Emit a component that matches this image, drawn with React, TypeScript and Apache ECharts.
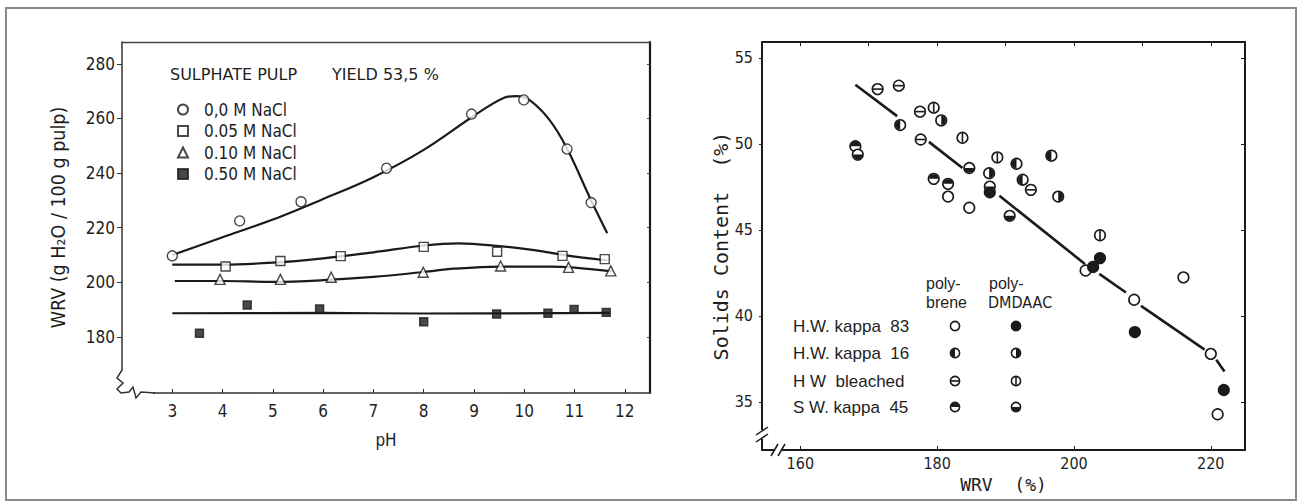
import React, { useEffect, useRef } from "react";
import * as echarts from "echarts";

// ---------- Left chart: WRV vs pH ----------
const phTicks = [3, 4, 5, 6, 7, 8, 9, 10, 11, 12];
const wrvLeftTicks = [180, 200, 220, 240, 260, 280];

const pts00 = [[3, 209.7], [4.34, 222.5], [5.56, 229.5], [7.26, 241.8], [8.95, 261.6], [9.99, 266.8], [10.85, 248.8], [11.33, 229.2]];
const pts005 = [[4.06, 205.8], [5.15, 207.8], [6.35, 209.6], [8.0, 213], [9.46, 211.2], [10.76, 209.7], [11.6, 208.5]];
const pts010 = [[3.95, 201.1], [5.15, 201.1], [6.16, 201.9], [7.99, 203.7], [9.53, 206], [10.88, 205.5], [11.72, 204.2]];
const pts050 = [[3.54, 181.4], [4.49, 191.7], [5.93, 190.3], [8.0, 185.6], [9.45, 188.4], [10.47, 188.7], [10.99, 190.1], [11.63, 189]];

const curve00 = [[3, 210], [4, 216.5], [5, 223], [6, 230.5], [7, 238.5], [8, 248.5], [9, 261], [9.6, 267.6], [9.85, 268.2], [10.1, 266.8], [10.5, 259.5], [10.85, 249], [11.33, 230], [11.65, 218]];
const curve005 = [[3, 206.5], [4, 206.5], [5, 207.2], [6, 208.8], [7, 211], [8, 213.5], [8.7, 214.3], [9.5, 213.3], [10.2, 211.8], [10.8, 210], [11.65, 208]];
const curve010 = [[3.05, 200.5], [4, 200.5], [5, 200.2], [6, 200.8], [7, 202], [8, 203.8], [8.6, 205], [9.5, 205.8], [10.5, 205.8], [11, 205.4], [11.75, 204]];
const curve050 = [[3, 188.7], [6, 188.8], [8, 188.6], [11.7, 188.8]];

const legendNames = ["0,0 M NaCl", "0.05 M NaCl", "0.10 M NaCl", "0.50 M NaCl"];

// ---------- Right chart: Solids content vs WRV ----------
const wrvTicks = [160, 180, 200, 220];
const wrvTopTicks = [160, 170, 180, 190, 200, 210, 220];
const solidsTicks = [35, 40, 45, 50, 55];

const hw83Poly = [[181.6, 46.94], [184.7, 46.29], [201.7, 42.64], [208.8, 40.94], [220.0, 37.79], [221.0, 34.28], [216.0, 42.24]];
const hw83Dmd = [[187.7, 47.19], [203.8, 43.36], [202.8, 42.85], [208.9, 39.06], [221.9, 35.69]];
const hw16Poly = [[174.6, 51.1], [191.6, 48.85], [192.5, 47.92], [196.7, 49.32]];
const hw16Dmd = [[180.6, 51.37], [187.6, 48.3], [197.7, 46.94]];
const hwBlPoly = [[171.3, 53.19], [174.4, 53.39], [177.5, 51.88], [177.6, 50.26], [193.7, 47.33]];
const hwBlDmd = [[179.5, 52.11], [183.7, 50.36], [188.8, 49.22], [203.8, 44.69]];
const sw45Poly = [[168.05, 49.87], [179.5, 47.97], [181.6, 47.68]];
const sw45Dmd = [[168.4, 49.38], [184.7, 48.6], [187.7, 47.52], [190.6, 45.82]];

const fitSegments = [
  [[168.05, 53.44], [174.15, 51.62]],
  [[178.8, 50.12], [183.7, 48.6]],
  [[189.1, 46.99], [201.6, 43.02]],
  [[203.7, 42.44], [207.6, 41.36]],
  [[209.8, 40.58], [219.1, 38.04]],
  [[220.8, 37.45], [222.0, 36.77]],
];

const pulpRows = ["H.W. kappa  83", "H.W. kappa  16", "H W  bleached", "S W. kappa  45"];

const COND = '"DejaVu Sans Condensed", "Liberation Sans Narrow", "Roboto Condensed", "DejaVu Sans", sans-serif';
const DJV = '"DejaVu Sans", "Liberation Sans", sans-serif';
const MONO = '"DejaVu Sans Mono", "Liberation Mono", monospace';
const SANS = '"Liberation Sans", Arial, sans-serif';
const INK = "#1a1a1a";

// kind: 0 open, 1 filled, 2 left half, 3 right half, 4 horizontal bar, 5 vertical bar, 6 top half, 7 bottom half
function marker(kind: number, cx: number, cy: number, r: number) {
  const ch: any[] = [
    { type: "circle", shape: { cx, cy, r }, style: { fill: kind === 1 ? INK : "#fff", stroke: INK, lineWidth: 1.6 } },
  ];
  const ri = r - 0.6;
  const P = Math.PI;
  const sector = (s: number, e: number) => ({
    type: "sector",
    shape: { cx, cy, r0: 0, r: ri, startAngle: s, endAngle: e, clockwise: true },
    style: { fill: INK },
  });
  if (kind === 2) ch.push(sector(P / 2, P * 1.5));
  if (kind === 3) ch.push(sector(-P / 2, P / 2));
  if (kind === 6) ch.push(sector(P, 2 * P));
  if (kind === 7) ch.push(sector(0, P));
  if (kind === 4) ch.push({ type: "rect", shape: { x: cx - ri, y: cy - 0.8, width: 2 * ri, height: 1.6 }, style: { fill: INK } });
  if (kind === 5) ch.push({ type: "rect", shape: { x: cx - 0.8, y: cy - ri, width: 1.6, height: 2 * ri }, style: { fill: INK } });
  return ch;
}

const rightSets: [string, number[][], number][] = [
  ["H.W. kappa 83 polybrene", hw83Poly, 0],
  ["H.W. kappa 83 polyDMDAAC", hw83Dmd, 1],
  ["H.W. kappa 16 polybrene", hw16Poly, 2],
  ["H.W. kappa 16 polyDMDAAC", hw16Dmd, 3],
  ["H.W. bleached polybrene", hwBlPoly, 4],
  ["H.W. bleached polyDMDAAC", hwBlDmd, 5],
  ["S.W. kappa 45 polybrene", sw45Poly, 6],
  ["S.W. kappa 45 polyDMDAAC", sw45Dmd, 7],
];

export default function App() {
  const ref = useRef<HTMLDivElement>(null);
  useEffect(() => {
    document.body.style.margin = "0";
    const chart = echarts.init(ref.current!, undefined, { renderer: "svg" });
    const axisText = { fontFamily: COND, fontSize: 17, color: "#1e1e1e" };

    const leftLine = (data: number[][], name: string) => ({
      type: "line", name, xAxisIndex: 0, yAxisIndex: 0, data, smooth: 0.35, showSymbol: false, symbol: "none",
      lineStyle: { color: INK, width: 2.2 }, z: 2, silent: true,
    });
    const leftScatter = (data: number[][], name: string, symbol: string, size: number, filled: boolean) => ({
      type: "scatter", name, xAxisIndex: 0, yAxisIndex: 0, data, symbol, symbolSize: size, z: 3,
      itemStyle: { color: filled ? INK : "#fff", borderColor: INK, borderWidth: 1.4 },
    });

    const rowY = [326, 353, 381, 407];
    const colX = [955, 1016];
    const textStyle = (text: string, fontFamily: string, fontSize: number) => ({
      text, fontFamily, fontSize, fill: "#1e1e1e", verticalAlign: "middle",
    });
    const graphic: any[] = [
      { type: "rect", shape: { x: 6, y: 8, width: 1290, height: 492 }, style: { fill: "none", stroke: "#8a8a8a", lineWidth: 2 }, z: 100 },
      // left axis break (zigzag)
      { type: "rect", shape: { x: 113, y: 366, width: 14, height: 30 }, style: { fill: "#fff" }, z: 100 },
      { type: "rect", shape: { x: 113, y: 386, width: 40, height: 12 }, style: { fill: "#fff" }, z: 100 },
      {
        type: "polyline",
        shape: { points: [[122, 366], [122, 370], [117, 378], [123, 383], [117, 389], [121, 393], [129, 392], [133, 387], [136, 398], [141, 392], [155, 393]] },
        style: { stroke: "#333", lineWidth: 1.5, fill: "none" }, z: 101,
      },
      { type: "text", x: 170, y: 74, style: textStyle("SULPHATE PULP", DJV, 16), z: 101 },
      { type: "text", x: 332, y: 74, style: textStyle("YIELD 53,5 %", DJV, 16), z: 101 },
      // right axis breaks
      { type: "rect", shape: { x: 758, y: 430, width: 8, height: 9 }, style: { fill: "#fff" }, z: 100 },
      { type: "line", shape: { x1: 756, y1: 435, x2: 768, y2: 427 }, style: { stroke: INK, lineWidth: 1.5 }, z: 101 },
      { type: "line", shape: { x1: 756, y1: 442, x2: 768, y2: 434 }, style: { stroke: INK, lineWidth: 1.5 }, z: 101 },
      { type: "rect", shape: { x: 775, y: 446, width: 6, height: 8 }, style: { fill: "#fff" }, z: 100 },
      { type: "line", shape: { x1: 771, y1: 456, x2: 778, y2: 444 }, style: { stroke: INK, lineWidth: 1.5 }, z: 101 },
      { type: "line", shape: { x1: 778, y1: 456, x2: 785, y2: 444 }, style: { stroke: INK, lineWidth: 1.5 }, z: 101 },
      // right legend headers
      { type: "text", x: 926, y: 283, style: textStyle("poly-", SANS, 16), z: 101 },
      { type: "text", x: 926, y: 302, style: textStyle("brene", SANS, 16), z: 101 },
      { type: "text", x: 989, y: 283, style: textStyle("poly-", SANS, 16), z: 101 },
      { type: "text", x: 988, y: 302, style: textStyle("DMDAAC", COND, 16), z: 101 },
    ];
    pulpRows.forEach((t, i) => {
      graphic.push({ type: "text", x: 793, y: rowY[i], style: textStyle(t, SANS, 17), z: 101 });
      graphic.push({ type: "group", children: marker([0, 2, 4, 6][i], colX[0], rowY[i], 4.6), z: 101 });
      graphic.push({ type: "group", children: marker([1, 3, 5, 7][i], colX[1], rowY[i], 4.6), z: 101 });
    });

    const option: any = {
      animation: false,
      backgroundColor: "#fff",
      grid: [
        { left: 122, top: 42, width: 528, height: 351, show: false },
        { left: 762, top: 42, width: 483, height: 408, show: false },
      ],
      legend: {
        data: legendNames, orient: "vertical", left: 172, top: 96, itemWidth: 10, itemHeight: 10, itemGap: 4.5,
        textStyle: { fontFamily: COND, fontSize: 17, color: "#1e1e1e", lineHeight: 16, padding: [0, 0, 0, 11] },
        selectedMode: false,
      },
      xAxis: [
        {
          gridIndex: 0, type: "value", min: 2, max: 12.5, position: "bottom",
          axisLine: { show: true, lineStyle: { color: "#333", width: 1.5 } },
          axisTick: { show: true, inside: true, length: 4, customValues: phTicks, lineStyle: { color: "#333" } },
          axisLabel: { customValues: phTicks, margin: 9, ...axisText },
          splitLine: { show: false },
          name: "pH", nameLocation: "middle", nameGap: 38, nameTextStyle: { ...axisText },
        },
        {
          gridIndex: 0, type: "value", min: 2, max: 12.5, position: "top",
          axisLine: { show: true, lineStyle: { color: "#444", width: 1.3 } },
          axisTick: { show: false }, axisLabel: { show: false }, splitLine: { show: false },
        },
        {
          gridIndex: 1, type: "value", min: 154.4, max: 225, position: "bottom",
          axisLine: { show: true, lineStyle: { color: INK, width: 2 } },
          axisTick: { show: true, inside: true, length: 4, customValues: wrvTicks, lineStyle: { color: INK } },
          axisLabel: { customValues: wrvTicks, margin: 5, fontFamily: COND, fontSize: 16, color: "#1e1e1e" },
          splitLine: { show: false },
          name: "WRV  (%)", nameLocation: "middle", nameGap: 20, nameTextStyle: { fontFamily: MONO, fontSize: 18, color: "#1e1e1e" },
        },
        {
          gridIndex: 1, type: "value", min: 154.4, max: 225, position: "top",
          axisLine: { show: true, lineStyle: { color: INK, width: 2 } },
          axisTick: { show: true, inside: true, length: 4, customValues: wrvTopTicks, lineStyle: { color: INK } },
          axisLabel: { show: false }, splitLine: { show: false },
        },
      ],
      yAxis: [
        {
          gridIndex: 0, type: "value", min: 159.5, max: 288, position: "left",
          axisLine: { show: true, lineStyle: { color: "#333", width: 1.5 } },
          axisTick: { show: true, inside: false, length: 5, customValues: wrvLeftTicks, lineStyle: { color: "#333" } },
          axisLabel: { customValues: wrvLeftTicks, margin: 7, ...axisText },
          splitLine: { show: false },
          name: "WRV (g H\u2082O / 100 g pulp)", nameLocation: "middle", nameGap: 54, nameRotate: 90,
          nameTextStyle: { fontFamily: COND, fontSize: 19.5, color: "#1e1e1e" },
        },
        {
          gridIndex: 0, type: "value", min: 159.5, max: 288, position: "right",
          axisLine: { show: true, lineStyle: { color: INK, width: 2.2 } },
          axisTick: { show: true, inside: true, length: 3, customValues: wrvLeftTicks, lineStyle: { color: "#444" } },
          axisLabel: { show: false }, splitLine: { show: false },
        },
        {
          gridIndex: 1, type: "value", min: 32.2, max: 55.93, position: "left",
          axisLine: { show: true, lineStyle: { color: INK, width: 2 } },
          axisTick: { show: true, inside: false, length: 3, customValues: solidsTicks, lineStyle: { color: INK } },
          axisLabel: { customValues: solidsTicks, margin: 9, fontFamily: COND, fontSize: 16, color: "#1e1e1e" },
          splitLine: { show: false },
          name: "Solids Content  (%)", nameLocation: "middle", nameGap: 31, nameRotate: 90,
          nameTextStyle: { fontFamily: MONO, fontSize: 20, color: "#1e1e1e" },
        },
        {
          gridIndex: 1, type: "value", min: 32.2, max: 55.93, position: "right",
          axisLine: { show: true, lineStyle: { color: INK, width: 2 } },
          axisTick: { show: true, inside: true, length: 4, customValues: solidsTicks, lineStyle: { color: INK } },
          axisLabel: { show: false }, splitLine: { show: false },
        },
      ],
      series: [
        leftLine(curve00, "fit 0.0"),
        leftLine(curve005, "fit 0.05"),
        leftLine(curve010, "fit 0.10"),
        leftLine(curve050, "fit 0.50"),
        leftScatter(pts00, legendNames[0], "circle", 10, false),
        leftScatter(pts005, legendNames[1], "rect", 9, false),
        leftScatter(pts010, legendNames[2], "triangle", 10, false),
        leftScatter(pts050, legendNames[3], "rect", 8, true),
        {
          type: "lines", coordinateSystem: "cartesian2d", xAxisIndex: 2, yAxisIndex: 2, silent: true, z: 2,
          data: fitSegments.map((s) => ({ coords: s })),
          lineStyle: { color: INK, width: 2.6, opacity: 1 },
        },
        ...rightSets.map(([name, data, kind]) => ({
          type: "custom", name, coordinateSystem: "cartesian2d", xAxisIndex: 2, yAxisIndex: 2, data, z: 3,
          renderItem: (_p: any, api: any) => {
            const c = api.coord([api.value(0), api.value(1)]);
            return { type: "group", children: marker(kind, c[0], c[1], 5.3) };
          },
        })),
      ],
      graphic,
    };
    chart.setOption(option);
    return () => chart.dispose();
  }, []);
  return <div ref={ref} style={{ width: 1304, height: 504 }} />;
}
